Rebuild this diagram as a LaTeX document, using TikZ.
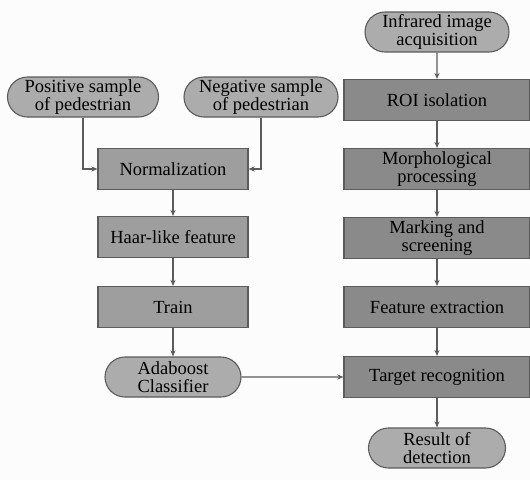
\documentclass[tikz,border=0pt]{standalone}
\usepackage{fontspec}
\setmainfont{LiberationSerif-Regular.ttf}
\usetikzlibrary{arrows.meta,shapes.misc}
\definecolor{pillgray}{RGB}{172,172,172}
\definecolor{leftgray}{RGB}{158,158,158}
\definecolor{rightgray}{RGB}{138,138,138}
\definecolor{edgegray}{RGB}{92,92,92}
\tikzstyle{pill}=[shape = rounded rectangle, draw = edgegray, line width = 1.1pt, fill = pillgray, minimum height = 40pt, inner sep = 1pt, align = center]
\tikzstyle{leftBox}=[shape = rectangle, draw = edgegray, line width = 1.1pt, fill = leftgray, minimum width = 150pt, minimum height = 41pt, inner sep = 1pt, align = center]
\tikzstyle{rightBox}=[shape = rectangle, draw = edgegray, line width = 1.1pt, fill = rightgray, minimum width = 186pt, minimum height = 41pt, inner sep = 1pt, align = center]
\tikzstyle{flow}=[draw = edgegray, line width = 1.1pt, -{Stealth[length = 6pt, width = 5pt]}]

\begin{document}
\begin{tikzpicture}[x = 1pt, y = -1pt, font = \fontsize{18.5}{17.5}\selectfont]
\useasboundingbox[fill = white!99!black] (0,0) rectangle (530,480);
% left column
\node[pill, minimum width = 153pt] (pos) at (83,97) {Positive sample\\of pedestrian};
\node[pill, minimum width = 156pt] (neg) at (261,97) {Negative sample\\of pedestrian};
\node[leftBox] (norm) at (173,169) {Normalization};
\node[leftBox] (haar) at (173,237) {Haar-like feature};
\node[leftBox] (train) at (173,307) {Train};
\node[pill, minimum width = 138pt] (ada) at (173,377) {Adaboost\\Classifier};
% right column
\node[pill, minimum width = 146pt] (infra) at (437,32) {Infrared image\\acquisition};
\node[rightBox] (roi) at (437,100) {ROI isolation};
\node[rightBox] (morph) at (437,169) {Morphological\\processing};
\node[rightBox] (mark) at (437,238) {Marking and\\screening};
\node[rightBox] (feat) at (437,307) {Feature extraction};
\node[rightBox] (target) at (437,377) {Target recognition};
\node[pill, minimum width = 139pt] (result) at (437,448) {Result of\\detection};
% connectors
\draw[flow] (pos) |- (norm);
\draw[flow] (neg) |- (norm);
\draw[flow] (norm) -- (haar);
\draw[flow] (haar) -- (train);
\draw[flow] (train) -- (ada);
\draw[flow] (ada) -- (target);
\draw[flow] (infra) -- (roi);
\draw[flow] (roi) -- (morph);
\draw[flow] (morph) -- (mark);
\draw[flow] (mark) -- (feat);
\draw[flow] (feat) -- (target);
\draw[flow] (target) -- (result);
\end{tikzpicture}
\end{document}
